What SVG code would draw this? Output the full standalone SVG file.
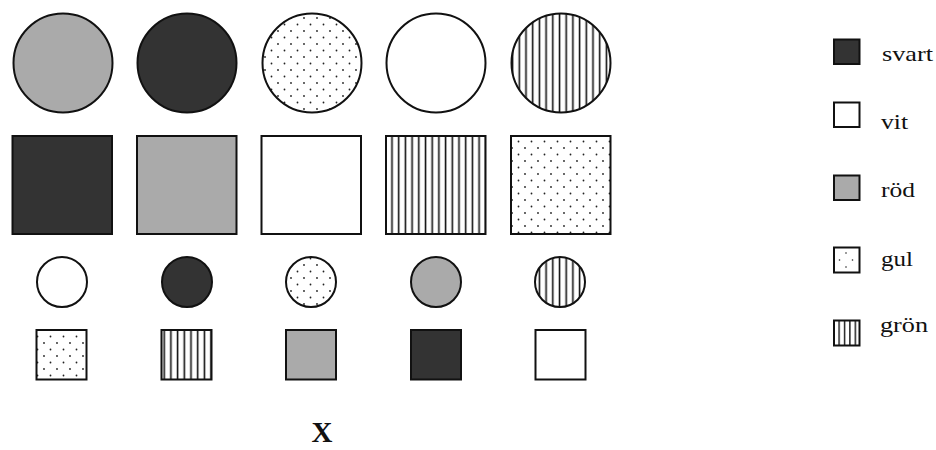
<svg xmlns="http://www.w3.org/2000/svg" width="936" height="450" viewBox="0 0 936 450">
  <defs>
    <pattern id="dots" patternUnits="userSpaceOnUse" width="13" height="13" x="3" y="3">
      <rect width="13" height="13" fill="#fff"/>
      <circle cx="2" cy="2" r="0.9" fill="#222"/>
      <circle cx="8.5" cy="8.5" r="0.9" fill="#222"/>
    </pattern>
    <pattern id="stripes" patternUnits="userSpaceOnUse" width="6.7" height="10" x="0" y="0">
      <rect width="6.7" height="10" fill="#fff"/>
      <rect x="2.6" y="0" width="1.6" height="10" fill="#111"/>
    </pattern>
    <pattern id="stripesSmall" patternUnits="userSpaceOnUse" width="5.4" height="10" x="833" y="0">
      <rect width="5.4" height="10" fill="#fff"/>
      <rect x="0" y="0" width="1.4" height="10" fill="#111"/>
    </pattern>
  </defs>
  <style>
    .s { stroke: #111; stroke-width: 2; }
    .dark { fill: #333; }
    .gray { fill: #aaa; }
    .white { fill: #fff; }
    .dot { fill: url(#dots); }
    .str { fill: url(#stripes); }
    .lab { font-family: "Liberation Serif", "Times New Roman", serif; font-size: 21px; fill: #111; }
  </style>
  <rect width="936" height="450" fill="#fff"/>

  <!-- Row 1: big circles -->
  <g id="c1"><circle class="s gray" cx="63" cy="63" r="49.5"/></g>
  <g id="c2"><circle class="s dark" cx="187" cy="63" r="49.5"/></g>
  <g id="c3"><circle class="s dot" cx="312" cy="63" r="49.5"/></g>
  <g id="c4"><circle class="s white" cx="436" cy="63" r="49.5"/></g>
  <g id="c5"><circle class="s str" cx="561" cy="63" r="49.5"/></g>

  <!-- Row 2: big squares -->
  <g id="q1"><rect class="s dark" x="12.5" y="136" width="99.5" height="98"/></g>
  <g id="q2"><rect class="s gray" x="137" y="136" width="99.5" height="98"/></g>
  <g id="q3"><rect class="s white" x="261.5" y="136" width="99.5" height="98"/></g>
  <g id="q4"><rect class="s str" x="386" y="136" width="99.5" height="98"/></g>
  <g id="q5"><rect class="s dot" x="511" y="136" width="99.5" height="98"/></g>

  <!-- Row 3: small circles -->
  <g id="sc1"><circle class="s white" cx="62" cy="282" r="25"/></g>
  <g id="sc2"><circle class="s dark" cx="187" cy="282" r="25"/></g>
  <g id="sc3"><circle class="s dot" cx="311" cy="282" r="25"/></g>
  <g id="sc4"><circle class="s gray" cx="436" cy="282" r="25"/></g>
  <g id="sc5"><circle class="s str" cx="560" cy="282" r="25"/></g>

  <!-- Row 4: small squares -->
  <g id="sq1"><rect class="s dot" x="36.5" y="330" width="50" height="49.5"/></g>
  <g id="sq2"><rect class="s str" x="161.5" y="330" width="50" height="49.5"/></g>
  <g id="sq3"><rect class="s gray" x="286" y="330" width="50" height="49.5"/></g>
  <g id="sq4"><rect class="s dark" x="411" y="330" width="50" height="49.5"/></g>
  <g id="sq5"><rect class="s white" x="535.5" y="330" width="50" height="49.5"/></g>

  <!-- Legend -->
  <g id="leg-svart">
    <rect class="s dark" x="834" y="39.5" width="25.5" height="24.5" stroke-width="1.6"/>
    <text class="lab" x="882" y="61" textLength="51" lengthAdjust="spacingAndGlyphs">svart</text>
  </g>
  <g id="leg-vit">
    <rect class="s white" x="834" y="102.5" width="25.5" height="24.5" stroke-width="1.6"/>
    <text class="lab" x="881" y="129" textLength="27" lengthAdjust="spacingAndGlyphs">vit</text>
  </g>
  <g id="leg-rod">
    <rect class="s gray" x="834" y="175.5" width="25.5" height="24.5" stroke-width="1.6"/>
    <text class="lab" x="881" y="197" textLength="34" lengthAdjust="spacingAndGlyphs">röd</text>
  </g>
  <g id="leg-gul">
    <rect class="s white" x="834" y="247.5" width="25.5" height="25" stroke-width="1.6"/>
    <circle cx="846" cy="253" r="0.8" fill="#222"/>
    <circle cx="839.5" cy="260" r="0.8" fill="#222"/>
    <circle cx="852.5" cy="260" r="0.8" fill="#222"/>
    <circle cx="846" cy="267" r="0.8" fill="#222"/>
    <text class="lab" x="881" y="266" textLength="32" lengthAdjust="spacingAndGlyphs">gul</text>
  </g>
  <g id="leg-gron">
    <rect class="s" fill="url(#stripesSmall)" x="834" y="320.5" width="25.5" height="25" stroke-width="1.6"/>
    <text class="lab" x="880" y="332" textLength="48" lengthAdjust="spacingAndGlyphs">grön</text>
  </g>

  <!-- Title -->
  <g id="title">
    <text x="322" y="442" text-anchor="middle" font-family="'Liberation Serif', 'Times New Roman', serif" font-weight="bold" font-size="29" fill="#111">X</text>
  </g>
</svg>
